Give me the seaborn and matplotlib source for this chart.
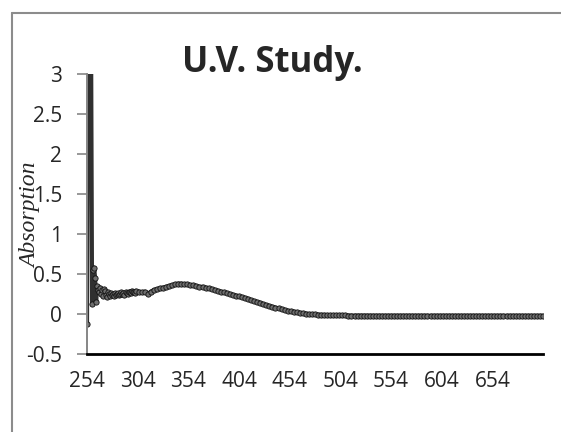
import numpy as np
import pandas as pd
import matplotlib
matplotlib.use("Agg")
import matplotlib.pyplot as plt
from matplotlib.lines import Line2D
import seaborn as sns

# ---- data (wavelength, nm / absorption) ----
wl_start = [254, 255, 256, 257, 258, 259, 260, 261, 262, 263, 264, 265, 266, 267,
            268, 269, 270, 271, 272, 273, 274, 275, 276, 277, 278, 279, 280, 281,
            282, 283, 284, 285, 286, 287, 288, 289, 290, 291, 292, 293, 294, 295,
            296, 297, 298, 299, 300, 301, 302]
abs_start = [-0.12, 3.6, 3.8, 3.7, 3.5, 0.12, 0.55, 0.58, 0.45, 0.15, 0.35, 0.30,
             0.28, 0.33, 0.25, 0.30, 0.22, 0.31, 0.29, 0.24, 0.21, 0.27, 0.25, 0.22,
             0.26, 0.24, 0.25, 0.23, 0.26, 0.24, 0.25, 0.26, 0.24, 0.25, 0.27, 0.25,
             0.26, 0.24, 0.27, 0.26, 0.25, 0.27, 0.28, 0.26, 0.29, 0.27, 0.28, 0.26,
             0.29]
wl_rest = [305, 308, 311, 314, 317, 320, 323, 326, 329, 332, 335, 338, 341, 344,
           347, 350, 353, 356, 359, 362, 365, 368, 371, 374, 377, 380, 383, 386,
           389, 392, 395, 398, 401, 404, 407, 410, 413, 416, 419, 422, 425, 428,
           431, 434, 437, 440, 443, 446, 449, 452, 455, 458, 461, 464, 467, 470,
           473, 476, 479, 482, 485, 488, 491, 494, 497, 500, 503, 506, 509, 512,
           515, 518, 521, 524, 527, 530, 533, 536, 539, 542, 545, 548, 551, 554,
           557, 560, 563, 566, 569, 572, 575, 578, 581, 584, 587, 590, 593, 596,
           599, 602, 605, 608, 611, 614, 617, 620, 623, 626, 629, 632, 635, 638,
           641, 644, 647, 650, 653, 656, 659, 662, 665, 668, 671, 674, 677, 680,
           683, 686, 689, 692, 695, 698, 701, 704]
abs_rest = [0.28, 0.27, 0.28, 0.25, 0.28, 0.30, 0.31, 0.32, 0.33, 0.34, 0.35, 0.36,
            0.37, 0.38, 0.38, 0.37, 0.37, 0.36, 0.36, 0.35, 0.34, 0.34, 0.33, 0.32,
            0.31, 0.30, 0.29, 0.28, 0.27, 0.26, 0.25, 0.24, 0.23, 0.22, 0.21, 0.20,
            0.19, 0.17, 0.16, 0.15, 0.14, 0.12, 0.11, 0.10, 0.09, 0.08, 0.07, 0.06,
            0.05, 0.04, 0.035, 0.03, 0.02, 0.015, 0.01, 0.005, 0.0, -0.003, -0.006,
            -0.008, -0.01, -0.012, -0.013, -0.014, -0.015, -0.016, -0.017, -0.018,
            -0.018, -0.019, -0.019, -0.02, -0.02, -0.02, -0.02, -0.02, -0.021,
            -0.021, -0.021, -0.021, -0.021, -0.021, -0.022, -0.022, -0.022, -0.022,
            -0.022, -0.022, -0.022, -0.022, -0.022, -0.022, -0.022, -0.022, -0.022,
            -0.022, -0.022, -0.022, -0.022, -0.022, -0.022, -0.022, -0.022, -0.022,
            -0.022, -0.022, -0.022, -0.022, -0.022, -0.022, -0.022, -0.022, -0.022,
            -0.022, -0.022, -0.022, -0.022, -0.022, -0.022, -0.022, -0.022, -0.022,
            -0.022, -0.022, -0.022, -0.022, -0.022, -0.022, -0.022, -0.022, -0.022,
            -0.022, -0.022, -0.022]

x_ticklabels = ["254", "304", "354", "404", "454", "504", "554", "604", "654"]
y_ticks = [-0.5, 0, 0.5, 1, 1.5, 2, 2.5, 3]
y_ticklabels = ["-0.5", "0", "0.5", "1", "1.5", "2", "2.5", "3"]
title = "U.V. Study."
ylabel = "Absorption"

df = pd.DataFrame({"wl": wl_start + wl_rest, "abs": abs_start + abs_rest})

sns.set_style("white")
plt.rcParams["font.family"] = ["Open Sans", "DejaVu Sans"]

W, H = 561, 432
fig = plt.figure(figsize=(W / 100, H / 100), dpi=100)
ax = fig.add_axes([87 / W, 1 - 354 / H, (543 - 87) / W, (354 - 74) / H])

# thick band underneath, dotted markers on top (Excel-style dense markers)
sns.lineplot(data=df, x="wl", y="abs", ax=ax, color="#303030", linewidth=3.0,
             sort=False)
sns.lineplot(data=df, x="wl", y="abs", ax=ax, color="#1a1a1a", linewidth=0,
             marker="o", markersize=3.8, markerfacecolor="#6e6e6e",
             markeredgecolor="#111111", markeredgewidth=0.6, sort=False)

ax.set_xlim(254, 704)
ax.set_ylim(-0.5, 3)

# labels every 50, tick marks every 100
ax.set_xticks([int(t) for t in x_ticklabels])
ax.set_xticklabels(x_ticklabels, fontsize=15)
ax.set_xticks([254, 354, 454, 554, 654], minor=True)
ax.tick_params(axis="x", which="major", length=0, pad=12)
ax.tick_params(axis="x", which="minor", length=7, width=1.5, color="black",
               direction="out", bottom=True)

ax.set_yticks(y_ticks)
ax.set_yticklabels(y_ticklabels, fontsize=15)
ax.yaxis.set_tick_params(which="major", length=7, width=1.2, color="#868686",
                         direction="out", left=True, pad=11)

for s in ["top", "right"]:
    ax.spines[s].set_visible(False)
ax.spines["left"].set_color("#868686")
ax.spines["left"].set_linewidth(1.4)
ax.spines["bottom"].set_color("black")
ax.spines["bottom"].set_linewidth(2)
ax.set_xlabel("")
ax.set_ylabel("")
ax.grid(False)

fig.text(272 / W, 1 - 63 / H, title, ha="center", va="center",
         fontsize=25, fontweight="bold")
fig.text(31 / W, 1 - 215 / H, ylabel, ha="center", va="center", rotation=90,
         fontsize=17, fontstyle="italic", family=["Liberation Serif"])

# outer chart border (left and top visible)
fig.add_artist(Line2D([12 / W, 12 / W], [0, 1 - 13 / H], transform=fig.transFigure,
                      color="#8c8c8c", linewidth=1.5))
fig.add_artist(Line2D([12 / W, 1], [1 - 13 / H, 1 - 13 / H], transform=fig.transFigure,
                      color="#8c8c8c", linewidth=1.5))

fig.savefig("out.png", dpi=100)
